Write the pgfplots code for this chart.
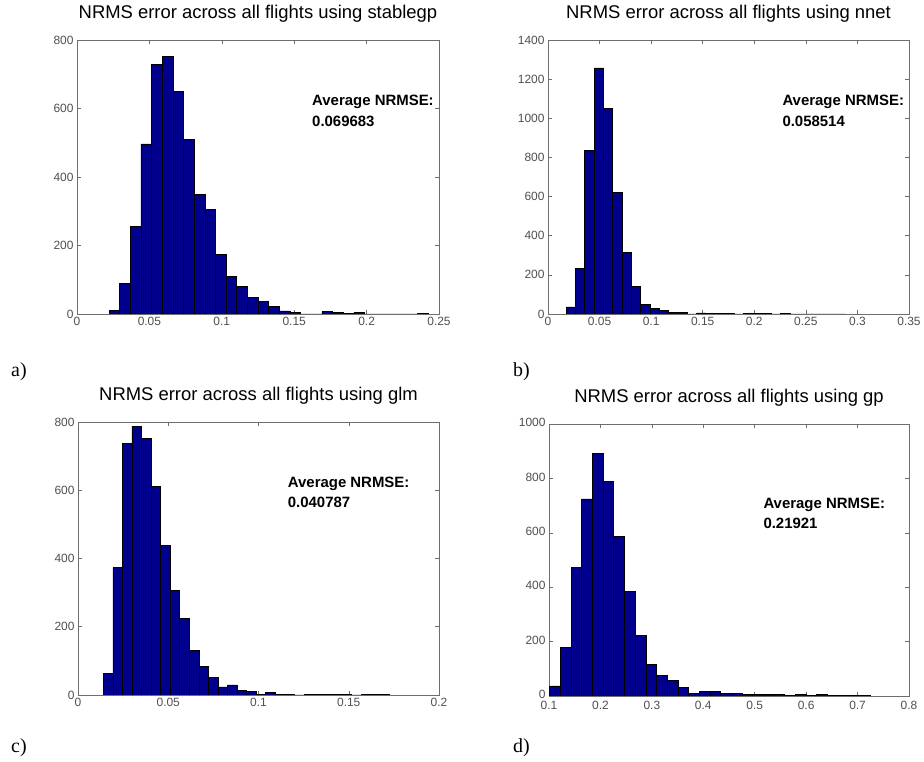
\documentclass[border=0pt]{standalone}
\usepackage{fontspec}
\setmainfont{Liberation Sans}
\newfontfamily\timesfont{Liberation Serif}
\usepackage{pgfplots}
\pgfplotsset{compat=1.18}
\definecolor{barblue}{RGB}{0,0,140}
\definecolor{axgray}{RGB}{110,110,110}
\definecolor{lblgray}{RGB}{80,80,80}
\pgfplotsset{
  hist/.style={
    scale only axis, enlargelimits=false,
    tick align=inside, major tick length=4bp,
    axis line style={axgray, line width=0.6bp},
    tick style={axgray, line width=0.5bp},
    tick label style={font=\fontsize{12}{14}\selectfont, text=lblgray},
    /pgf/number format/assume math mode=true,
    /pgf/number format/1000 sep={},
    scaled ticks=false,
    xticklabel style={/pgf/number format/fixed, /pgf/number format/precision=2},
    ymin=0,
    title style={font=\fontsize{18.5}{20}\selectfont, anchor=base, inner sep=0pt, at={(0.5,1)}, yshift=16bp},
  },
  bars/.style={ybar interval, fill=barblue, draw=black, line width=0.5bp},
}
\begin{document}
\begin{tikzpicture}
\fill[white] (0,0) rectangle (924bp,762bp);
\useasboundingbox (0,0) rectangle (924bp,762bp);

% a) stablegp
\begin{axis}[hist, at={(77bp,448bp)}, anchor=south west, width=362bp, height=274bp,
  xmin=0, xmax=0.25, ymax=800, xtick={0,0.05,...,0.25}, ytick={0,200,...,800},
  title={NRMS error across all flights using stablegp}]
\addplot[bars] coordinates {
(0.0221,10)(0.02945,90)(0.0368,255)(0.04415,497)(0.0515,729)(0.05885,752)
(0.0662,649)(0.07355,510)(0.0809,350)(0.08825,305)(0.0956,174)(0.10295,109)
(0.1103,81)(0.11765,49)(0.125,36)(0.13235,23)(0.1397,9)(0.14705,5)
(0.1544,0)(0.16175,0)(0.1691,8)(0.17645,4)(0.1838,1)(0.19115,5)
(0.1985,0)(0.20585,0)(0.2132,0)(0.22055,0)(0.2279,0)(0.23525,2)(0.2426,2)};
\end{axis}

% b) nnet
\begin{axis}[hist, at={(548bp,448bp)}, anchor=south west, width=361bp, height=274bp,
  xmin=0, xmax=0.35, ymax=1400, xtick={0,0.05,...,0.35}, ytick={0,200,...,1400},
  title={NRMS error across all flights using nnet}]
\addplot[bars] coordinates {
(0.0175,37)(0.02654,235)(0.03558,836)(0.04462,1257)(0.05366,1049)(0.0627,623)
(0.07174,315)(0.08078,140)(0.08982,49)(0.09886,29)(0.1079,17)(0.11694,8)
(0.12598,8)(0.13502,1)(0.14406,6)(0.1531,5)(0.16214,5)(0.17118,4)
(0.18022,1)(0.18926,5)(0.1983,5)(0.20734,4)(0.21638,1)(0.22542,4)
(0.23446,1)(0.2435,0)(0.25254,0)(0.26158,0)(0.27062,0)(0.27966,1)(0.2887,1)};
\end{axis}

% c) glm
\begin{axis}[hist, at={(78bp,67bp)}, anchor=south west, width=361bp, height=273bp,
  xmin=0, xmax=0.2, ymax=800, xtick={0,0.05,...,0.2}, ytick={0,200,...,800},
  title={NRMS error across all flights using glm}]
\addplot[bars] coordinates {
(0.014,63)(0.01929,373)(0.02458,738)(0.02987,788)(0.03516,753)(0.04045,612)
(0.04574,439)(0.05103,307)(0.05632,224)(0.06161,130)(0.0669,83)(0.07219,52)
(0.07748,24)(0.08277,30)(0.08806,13)(0.09335,10)(0.09864,2)(0.10393,8)
(0.10922,1)(0.11451,2)(0.1198,0)(0.12509,1)(0.13038,1)(0.13567,1)
(0.14096,1)(0.14625,1)(0.15154,0)(0.15683,1)(0.16212,1)(0.16741,1)(0.1727,1)};
\end{axis}

% d) gp
\begin{axis}[hist, at={(549bp,66bp)}, anchor=south west, width=360bp, height=272bp,
  xmin=0.1, xmax=0.8, ymax=1000, xtick={0.1,0.2,...,0.8}, ytick={0,200,...,1000},
  xticklabel style={/pgf/number format/precision=1, yshift=-1.5bp},
  yticklabel style={yshift=1.5bp},
  title={NRMS error across all flights using gp}]
\addplot[bars] coordinates {
(0.1013,37)(0.12206,178)(0.14282,472)(0.16358,725)(0.18434,893)(0.2051,790)
(0.22586,587)(0.24662,384)(0.26738,223)(0.28814,117)(0.3089,76)(0.32966,58)
(0.35042,31)(0.37118,9)(0.39194,17)(0.4127,17)(0.43346,11)(0.45422,11)
(0.47498,7)(0.49574,6)(0.5165,6)(0.53726,6)(0.55802,1)(0.57878,5)
(0.59954,1)(0.6203,6)(0.64106,1)(0.66182,1)(0.68258,1)(0.70334,1)(0.7241,1)};
\end{axis}

% annotations
\begin{scope}[every node/.style={anchor=base west, inner sep=0pt, font=\bfseries\fontsize{15}{18}\selectfont}]
\node at (312bp,656.3bp) {Average NRMSE:};
\node at (312bp,635.3bp) {0.069683};
\node at (782.3bp,656bp) {Average NRMSE:};
\node at (782.3bp,635.3bp) {0.058514};
\node at (287.7bp,274.7bp) {Average NRMSE:};
\node at (287.7bp,254.3bp) {0.040787};
\node at (763.3bp,253.7bp) {Average NRMSE:};
\node at (763.3bp,233bp) {0.21921};
\end{scope}
\begin{scope}[every node/.style={anchor=base west, inner sep=0pt, font=\timesfont\fontsize{20}{22}\selectfont}]
\node at (11bp,385bp) {a)};
\node at (513bp,385bp) {b)};
\node at (11bp,10bp) {c)};
\node at (513bp,10bp) {d)};
\end{scope}
\end{tikzpicture}
\end{document}
